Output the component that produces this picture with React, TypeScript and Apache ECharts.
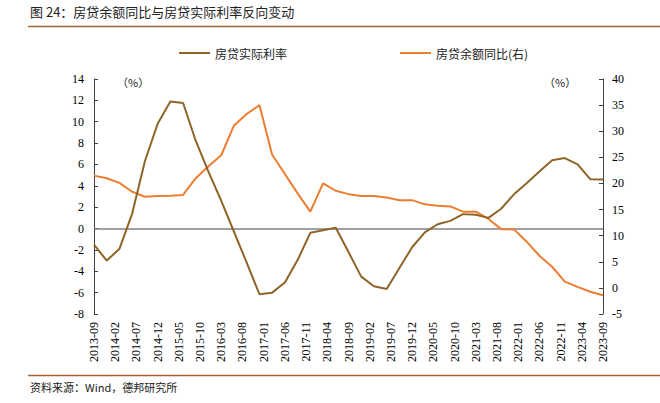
import React, { useEffect, useRef } from "react";
import * as echarts from "echarts";

const quarterDates = [
  "2013-09", "2013-12", "2014-03", "2014-06", "2014-09", "2014-12", "2015-03", "2015-06",
  "2015-09", "2015-12", "2016-03", "2016-06", "2016-09", "2016-12", "2017-03", "2017-06",
  "2017-09", "2017-12", "2018-03", "2018-06", "2018-09", "2018-12", "2019-03", "2019-06",
  "2019-09", "2019-12", "2020-03", "2020-06", "2020-09", "2020-12", "2021-03", "2021-06",
  "2021-09", "2021-12", "2022-03", "2022-06", "2022-09", "2022-12", "2023-03", "2023-06",
  "2023-09",
];

const tickLabels = [
  "2013-09", "2014-02", "2014-07", "2014-12", "2015-05", "2015-10", "2016-03", "2016-08",
  "2017-01", "2017-06", "2017-11", "2018-04", "2018-09", "2019-02", "2019-07", "2019-12",
  "2020-05", "2020-10", "2021-03", "2021-08", "2022-01", "2022-06", "2022-11", "2023-04",
  "2023-09",
];

// 房贷实际利率 (left axis, %)
const realRate = [
  -1.5, -3.0, -1.9, 1.4, 6.3, 9.8, 11.9, 11.75,
  8.2, 5.3, 2.6, -0.3, -3.2, -6.15, -6.0, -5.05,
  -2.95, -0.4, -0.15, 0.08, -2.2, -4.5, -5.4, -5.65,
  -3.7, -1.75, -0.35, 0.4, 0.72, 1.35, 1.3, 1.0,
  1.85, 3.2, 4.25, 5.35, 6.4, 6.6, 6.0, 4.62,
  4.6,
];

// 房贷余额同比 (right axis, %)
const balanceYoY = [
  21.5, 21.0, 20.1, 18.4, 17.45, 17.6, 17.65, 17.8,
  21.0, 23.3, 25.4, 31.1, 33.3, 35.0, 25.5, 21.8,
  18.1, 14.6, 20.0, 18.6, 17.95, 17.6, 17.6, 17.3,
  16.8, 16.8, 16.0, 15.75, 15.6, 14.6, 14.6, 13.2,
  11.25, 11.2, 8.85, 6.15, 4.05, 1.2, 0.2, -0.75,
  -1.4,
];

const startDate = "2013-09";

function monthIndex(d: string): number {
  const [y, m] = d.split("-").map(Number);
  const [y0, m0] = startDate.split("-").map(Number);
  return (y - y0) * 12 + (m - m0);
}

const BROWN = "#8F6428";
const ORANGE = "#ED7D31";
const CJK = "Noto Sans CJK SC";
const SERIF = "Times New Roman, Liberation Serif, serif";

export default function App() {
  const ref = useRef<HTMLDivElement>(null);

  useEffect(() => {
    if (!ref.current) return;
    const chart = echarts.init(ref.current, null, { renderer: "svg" });
    const maxMonth = monthIndex(tickLabels[tickLabels.length - 1]);
    const option: any = {
      animation: false,
      backgroundColor: "#ffffff",
      textStyle: { fontFamily: SERIF },
      grid: { left: 94, right: 57, top: 79, bottom: 89, containLabel: false },
      legend: {
        left: 174,
        top: 42,
        itemWidth: 31,
        itemHeight: 2,
        itemGap: 113,
        icon: "rect",
        textStyle: { fontFamily: CJK, fontSize: 12, color: "#222" },
        data: [
          { name: "房贷实际利率", itemStyle: { color: BROWN } },
          { name: "房贷余额同比(右)", itemStyle: { color: ORANGE } },
        ],
      },
      xAxis: {
        type: "value",
        min: 0,
        max: maxMonth,
        interval: 5,
        axisLine: { show: false },
        axisTick: { show: false },
        splitLine: { show: false },
        axisLabel: {
          rotate: 90,
          margin: 8,
          fontFamily: SERIF,
          fontSize: 12,
          color: "#000",
          showMinLabel: true,
          showMaxLabel: true,
          formatter: (v: number) => tickLabels[Math.round(v / 5)] ?? "",
        },
      },
      yAxis: [
        {
          type: "value",
          min: -8,
          max: 14,
          interval: 2,
          position: "left",
          axisLine: { show: true, onZero: false, lineStyle: { color: "#404040", width: 1 } },
          axisTick: { show: true, inside: true, length: 4, lineStyle: { color: "#404040" } },
          splitLine: { show: false },
          axisLabel: { margin: 10, fontFamily: SERIF, fontSize: 12, color: "#000" },
        },
        {
          type: "value",
          min: -5,
          max: 40,
          interval: 5,
          position: "right",
          axisLine: { show: true, onZero: false, lineStyle: { color: "#404040", width: 1 } },
          axisTick: { show: true, inside: true, length: 4, lineStyle: { color: "#404040" } },
          splitLine: { show: false },
          axisLabel: { margin: 9, fontFamily: SERIF, fontSize: 12, color: "#000" },
        },
      ],
      series: [
        {
          name: "房贷实际利率",
          type: "line",
          yAxisIndex: 0,
          showSymbol: false,
          symbol: "none",
          lineStyle: { color: BROWN, width: 2 },
          itemStyle: { color: BROWN },
          data: quarterDates.map((d, i) => [monthIndex(d), realRate[i]]),
          markLine: {
            silent: true,
            symbol: "none",
            label: { show: false },
            lineStyle: { color: "#808080", width: 1.5, type: "solid" },
            data: [{ yAxis: 0 }],
            z: 1,
          },
          z: 3,
        },
        {
          name: "房贷余额同比(右)",
          type: "line",
          yAxisIndex: 1,
          showSymbol: false,
          symbol: "none",
          lineStyle: { color: ORANGE, width: 2 },
          itemStyle: { color: ORANGE },
          data: quarterDates.map((d, i) => [monthIndex(d), balanceYoY[i]]),
          z: 2,
        },
      ],
      graphic: [
        {
          type: "text",
          left: 30,
          top: 5,
          style: {
            text: "图 24：房贷余额同比与房贷实际利率反向变动",
            fontFamily: CJK,
            fontSize: 13,
            fill: "#222",
          },
        },
        {
          type: "line",
          shape: { x1: 28, y1: 26.5, x2: 660, y2: 26.5 },
          style: { stroke: "#A5622F", lineWidth: 1.5 },
        },
        {
          type: "text",
          left: 117,
          top: 76,
          style: { text: "（%）", fontFamily: CJK, fontSize: 11, fill: "#222" },
        },
        {
          type: "text",
          left: 544,
          top: 76,
          style: { text: "（%）", fontFamily: CJK, fontSize: 11, fill: "#222" },
        },
        {
          type: "line",
          shape: { x1: 28, y1: 375.5, x2: 660, y2: 375.5 },
          style: { stroke: "#A5622F", lineWidth: 1.5 },
        },
        {
          type: "text",
          left: 30,
          top: 381,
          style: {
            text: "资料来源：Wind，德邦研究所",
            fontFamily: CJK,
            fontSize: 11,
            fill: "#222",
          },
        },
      ],
    };
    chart.setOption(option);
    return () => chart.dispose();
  }, []);

  return (
    <div
      ref={ref}
      style={{ position: "fixed", left: 0, top: 0, width: 660, height: 403 }}
    />
  );
}
